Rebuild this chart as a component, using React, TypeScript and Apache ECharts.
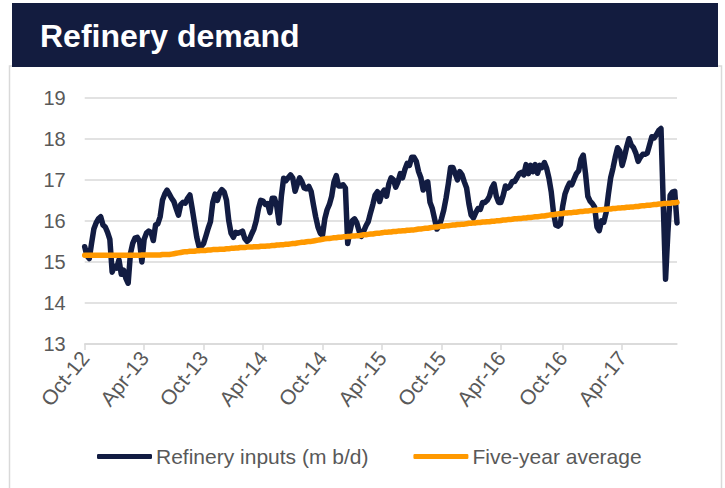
import React, { useEffect, useRef } from "react";
import * as echarts from "echarts";

const TITLE = "Refinery demand";
const SERIES_NAMES = ["Refinery inputs (m b/d)", "Five-year average"];
const FIRST_WEEK = "2012-10-05";
const TICK_MONTHS = [3, 9]; // April, October
const MONTH_ABBR = ["Jan", "Feb", "Mar", "Apr", "May", "Jun", "Jul", "Aug", "Sep", "Oct", "Nov", "Dec"];

const refineryInputs = [
  15.37, 15.15, 15.08, 15.45, 15.8, 15.95, 16.05, 16.1, 15.9, 15.85,
  15.72, 15.55, 14.75, 14.9, 14.85, 15.05, 14.7, 14.8, 14.6, 14.48,
  15.2, 15.45, 15.58, 15.6, 15.5, 15.0, 15.55, 15.7, 15.75, 15.72,
  15.52, 15.9, 15.93, 16.1, 16.5, 16.65, 16.75, 16.65, 16.55, 16.47,
  16.3, 16.14, 16.4, 16.45, 16.43, 16.55, 16.63, 16.3, 15.95, 15.6,
  15.37, 15.38, 15.45, 15.63, 15.82, 15.98, 16.45, 16.65, 16.5, 16.68,
  16.76, 16.7, 16.5, 16.0, 15.7, 15.6, 15.72, 15.7, 15.72, 15.75,
  15.57, 15.5, 15.55, 15.68, 15.8, 16.0, 16.3, 16.5, 16.48, 16.4,
  16.42, 16.2, 16.55, 16.55, 16.35, 15.95, 16.6, 17.04, 16.98, 17.05,
  17.12, 17.04, 16.72, 16.9, 17.05, 16.95, 16.8, 16.78, 16.84, 16.72,
  16.4, 16.1, 15.85, 15.7, 15.65, 16.05, 16.27, 16.4, 16.6, 16.95,
  17.1, 16.85, 16.85, 16.88, 16.8, 15.45, 15.75, 16.0, 16.05, 15.95,
  15.75, 15.62, 15.75, 15.88, 15.98, 16.2, 16.4, 16.63, 16.71, 16.47,
  16.67, 16.75, 16.6, 16.9, 17.05, 17.0, 16.82, 16.95, 17.15, 17.05,
  17.25, 17.4, 17.35, 17.55, 17.55, 17.45, 17.2, 17.05, 16.75, 16.92,
  16.95, 16.45, 16.3, 16.05, 15.8, 15.88, 16.05, 16.26, 16.55, 16.9,
  17.3, 17.3, 17.15, 17.0, 17.2, 17.12, 16.95, 16.8, 16.42, 16.14,
  16.07, 16.2, 16.3, 16.28, 16.45, 16.45, 16.5, 16.6, 16.8, 16.9,
  16.6, 16.45, 16.45, 16.62, 16.85, 16.8, 16.85, 16.96, 16.96, 17.05,
  17.15, 17.18, 17.12, 17.37, 17.15, 17.35, 17.2, 17.37, 17.16, 17.35,
  17.3, 17.42, 17.28, 17.04, 16.71, 16.2, 15.9, 15.87, 15.92, 16.35,
  16.65, 16.8, 16.92, 16.88, 17.02, 17.15, 17.22, 17.5, 17.6, 17.15,
  16.6, 16.48, 16.42, 16.33, 15.85, 15.76, 16.0, 15.97, 16.2, 16.65,
  17.05, 17.28, 17.55, 17.78, 17.7, 17.35, 17.55, 17.8, 18.0, 17.85,
  17.78, 17.65, 17.45, 17.55, 17.62, 17.62, 17.65, 17.85, 18.05, 18.02,
  18.1, 18.2, 18.25, 16.4, 14.58, 15.7, 16.62, 16.7, 16.72, 15.95,
];

const fiveYearAverage = [
  15.16, 15.16, 15.16, 15.16, 15.16, 15.16, 15.16, 15.16, 15.16, 15.16,
  15.16, 15.16, 15.16, 15.16, 15.16, 15.16, 15.16, 15.16, 15.16, 15.16,
  15.16, 15.16, 15.16, 15.16, 15.16, 15.17, 15.17, 15.17, 15.17, 15.17,
  15.17, 15.17, 15.17, 15.17, 15.18, 15.18, 15.18, 15.18, 15.19, 15.2,
  15.21, 15.22, 15.23, 15.24, 15.25, 15.25, 15.26, 15.26, 15.26, 15.27,
  15.27, 15.28, 15.28, 15.28, 15.29, 15.29, 15.3, 15.3, 15.3, 15.31,
  15.31, 15.31, 15.32, 15.32, 15.33, 15.33, 15.34, 15.34, 15.35, 15.35,
  15.35, 15.36, 15.36, 15.36, 15.37, 15.37, 15.37, 15.38, 15.38, 15.38,
  15.39, 15.39, 15.4, 15.4, 15.41, 15.41, 15.42, 15.42, 15.43, 15.43,
  15.44, 15.45, 15.45, 15.46, 15.47, 15.48, 15.48, 15.49, 15.5, 15.5,
  15.51, 15.52, 15.53, 15.54, 15.55, 15.56, 15.57, 15.57, 15.58, 15.59,
  15.59, 15.6, 15.6, 15.61, 15.61, 15.62, 15.62, 15.63, 15.63, 15.64,
  15.64, 15.65, 15.66, 15.66, 15.67, 15.68, 15.68, 15.69, 15.7, 15.7,
  15.71, 15.72, 15.72, 15.73, 15.73, 15.74, 15.74, 15.75, 15.75, 15.76,
  15.76, 15.77, 15.77, 15.78, 15.78, 15.79, 15.8, 15.8, 15.81, 15.82,
  15.82, 15.83, 15.84, 15.85, 15.85, 15.86, 15.87, 15.87, 15.88, 15.88,
  15.89, 15.9, 15.9, 15.91, 15.91, 15.92, 15.92, 15.93, 15.94, 15.94,
  15.95, 15.95, 15.96, 15.96, 15.97, 15.97, 15.98, 15.98, 15.99, 15.99,
  16.0, 16.0, 16.01, 16.02, 16.02, 16.03, 16.03, 16.04, 16.05, 16.05,
  16.06, 16.06, 16.07, 16.07, 16.08, 16.08, 16.09, 16.1, 16.1, 16.11,
  16.12, 16.12, 16.13, 16.14, 16.15, 16.15, 16.16, 16.17, 16.17, 16.18,
  16.19, 16.19, 16.2, 16.2, 16.21, 16.21, 16.22, 16.23, 16.23, 16.24,
  16.24, 16.25, 16.25, 16.26, 16.26, 16.27, 16.27, 16.28, 16.28, 16.29,
  16.29, 16.3, 16.3, 16.31, 16.31, 16.32, 16.32, 16.33, 16.33, 16.34,
  16.34, 16.35, 16.35, 16.36, 16.37, 16.37, 16.38, 16.38, 16.39, 16.4,
  16.4, 16.41, 16.41, 16.42, 16.42, 16.43, 16.43, 16.44, 16.44, 16.45,
];

const Y_MIN = 13;
const Y_MAX = 19;
const Y_STEP = 1;

// weekly category dates (week ending Fridays) from the first week on
const weekDates: string[] = (() => {
  const [y, m, d] = FIRST_WEEK.split("-").map(Number);
  const start = Date.UTC(y, m - 1, d);
  return refineryInputs.map((_, i) => new Date(start + i * 7 * 86400000).toISOString().slice(0, 10));
})();

const isTickWeek = (_idx: number, value: string) => {
  const [, m, d] = value.split("-").map(Number);
  return TICK_MONTHS.includes(m - 1) && d <= 7;
};

const formatLabel = (value: string) => {
  const [y, m] = value.split("-").map(Number);
  return `${MONTH_ABBR[m - 1]}-${String(y).slice(2)}`;
};

const NAVY = "#121c42";
const ORANGE = "#ff9900";
const GRID = "#d9d9d9";
const TEXT = "#595959";
const FONT = "'Liberation Sans', Arial, sans-serif";

export default function App() {
  const ref = useRef<HTMLDivElement>(null);
  useEffect(() => {
    if (!ref.current) return;
    const chart = echarts.init(ref.current, undefined, { renderer: "svg" });
    chart.setOption({
      animation: false,
      backgroundColor: "#ffffff",
      textStyle: { fontFamily: FONT },
      graphic: [
        {
          type: "rect",
          shape: { x: 9.5, y: 66, width: 712, height: 440 },
          style: { fill: "#ffffff", stroke: GRID, lineWidth: 1.5 },
          z: -10,
        },
        {
          type: "rect",
          shape: { x: 12, y: 3, width: 706, height: 64 },
          style: { fill: "#131c3f" },
          z: -5,
        },
        {
          type: "text",
          x: 40,
          y: 36,
          style: {
            text: TITLE,
            fill: "#ffffff",
            font: `bold 32px ${FONT}`,
            verticalAlign: "middle",
            textAlign: "left",
          },
          z: 10,
        },
      ],
      grid: { left: 84.7, right: 48, top: 97.7, bottom: 144, containLabel: false },
      legend: {
        data: SERIES_NAMES,
        left: 92,
        top: 441,
        icon: "roundRect",
        itemWidth: 55,
        itemHeight: 5,
        itemGap: 45,
        textStyle: { fontSize: 21, color: TEXT, fontFamily: FONT, padding: [0, 0, 0, -1] },
      },
      xAxis: {
        type: "category",
        data: weekDates,
        boundaryGap: false,
        axisLine: { show: true, lineStyle: { color: GRID, width: 1.5 } },
        axisTick: { show: true, interval: isTickWeek, length: 6, lineStyle: { color: GRID, width: 1.5 } },
        axisLabel: {
          interval: isTickWeek,
          rotate: 51,
          margin: 10,
          fontSize: 21,
          color: TEXT,
          fontFamily: FONT,
          formatter: formatLabel,
        },
        splitLine: { show: false },
      },
      yAxis: {
        type: "value",
        min: Y_MIN,
        max: Y_MAX,
        interval: Y_STEP,
        axisLine: { show: false },
        axisTick: { show: false },
        axisLabel: { fontSize: 20, color: TEXT, margin: 19, fontFamily: FONT },
        splitLine: { lineStyle: { color: GRID, width: 1.5 } },
      },
      series: [
        {
          name: SERIES_NAMES[0],
          type: "line",
          data: refineryInputs,
          showSymbol: false,
          symbol: "none",
          color: NAVY,
          lineStyle: { color: NAVY, width: 5.5, cap: "round", join: "round" },
          z: 2,
        },
        {
          name: SERIES_NAMES[1],
          type: "line",
          data: fiveYearAverage,
          showSymbol: false,
          symbol: "none",
          color: ORANGE,
          lineStyle: { color: ORANGE, width: 5.5, cap: "round", join: "round" },
          z: 3,
        },
      ],
    });
    return () => chart.dispose();
  }, []);
  return (
    <div
      ref={ref}
      style={{ position: "fixed", left: 0, top: 0, width: 725, height: 488, background: "#fff" }}
    />
  );
}
